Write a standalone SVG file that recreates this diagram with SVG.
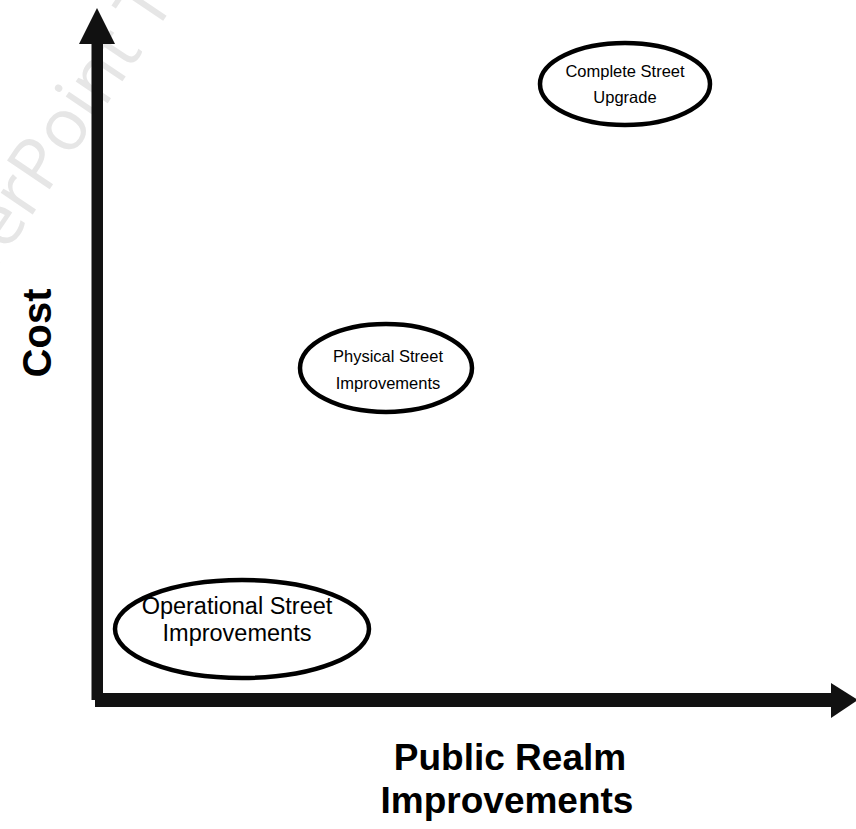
<svg xmlns="http://www.w3.org/2000/svg" width="856" height="829" viewBox="0 0 856 829">
<style>
.bg{fill:#ffffff}
.wm{font-family:"Open Sans","Liberation Sans",sans-serif;font-size:72px;fill:#e6e6e6}
.ax{fill:#111111}
.ell{fill:#ffffff;stroke:#000000;stroke-width:4.5}
.lbl{font-family:"Liberation Sans",Arial,sans-serif;font-size:16.5px;fill:#000000;text-anchor:middle}
.axl{font-family:"Liberation Sans",Arial,sans-serif;font-size:37px;font-weight:bold;fill:#000000;text-anchor:middle}
</style>
<rect class="bg" x="0" y="0" width="856" height="829"/>
<text class="wm" transform="translate(-73,371) rotate(-56)">PowerPoint Templates</text>
<g id="connectors">
  <rect class="ax" x="91.5" y="40" width="11.5" height="660"/>
  <polygon class="ax" points="97,8 79,44 115,44"/>
  <rect class="ax" x="95" y="693" width="740" height="14"/>
  <polygon class="ax" points="858,700 831,683 831,718"/>
</g>
<g id="node-complete">
  <ellipse class="ell" cx="625" cy="84" rx="85" ry="41"/>
  <text class="lbl" x="625" y="77">Complete Street</text>
  <text class="lbl" x="625" y="103">Upgrade</text>
</g>
<g id="node-physical">
  <ellipse class="ell" cx="386" cy="368" rx="86" ry="44"/>
  <text class="lbl" x="388" y="362">Physical Street</text>
  <text class="lbl" x="388" y="389">Improvements</text>
</g>
<g id="node-operational">
  <ellipse class="ell" cx="242" cy="629" rx="127" ry="49"/>
  <text class="lbl" x="237" y="614" style="font-size:23.5px">Operational Street</text>
  <text class="lbl" x="237" y="641" style="font-size:23.5px">Improvements</text>
</g>
<g id="label-x">
  <text class="axl" x="510" y="770">Public Realm</text>
  <text class="axl" x="507" y="813">Improvements</text>
</g>
<g id="label-y">
  <text class="axl" transform="translate(51,333) rotate(-90)" style="font-size:40px">Cost</text>
</g>
</svg>
